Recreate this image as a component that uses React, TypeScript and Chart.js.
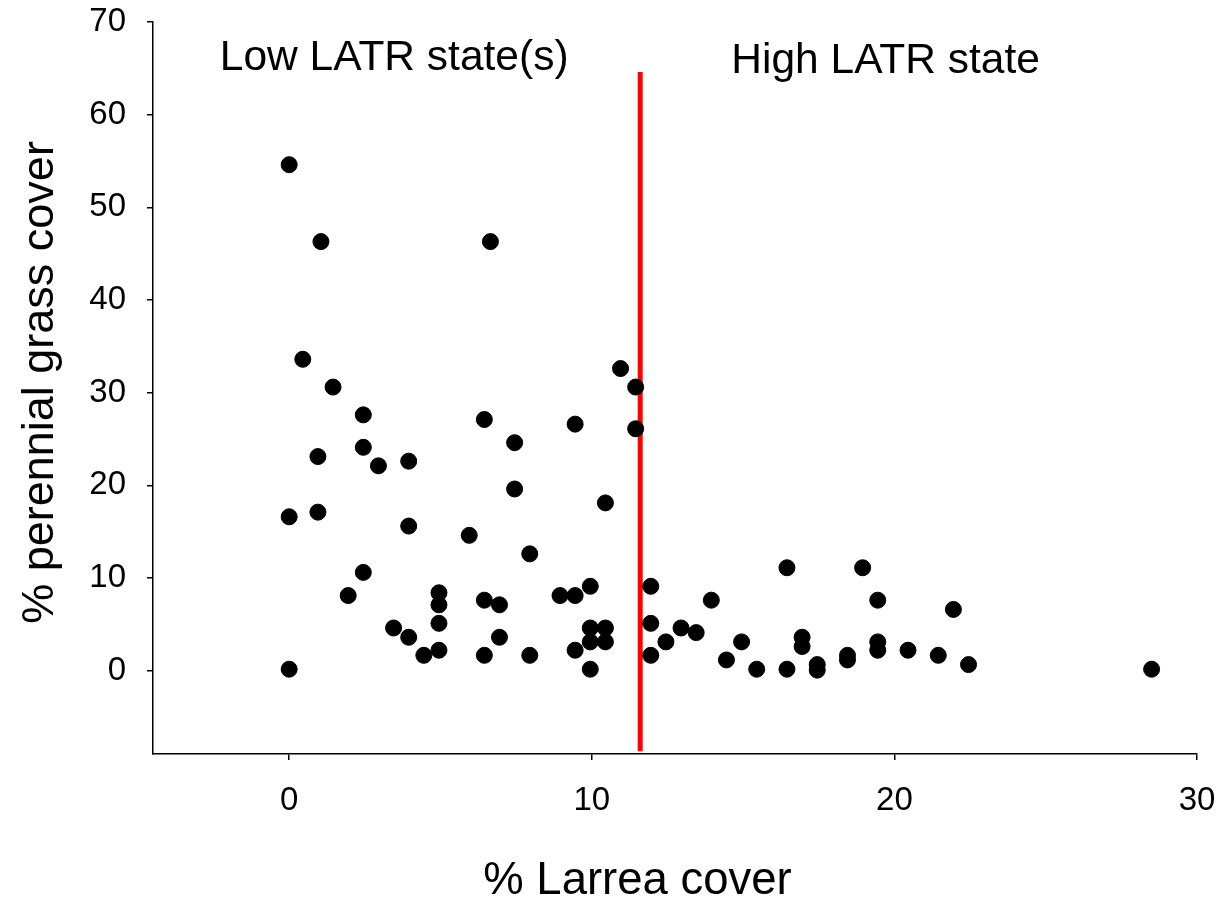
import React, { useEffect, useRef } from 'react';
import { Chart, registerables } from 'chart.js';

Chart.register(...registerables);

const FONT = "'Liberation Sans', Arial, Helvetica, sans-serif";

// % Larrea cover (x) and % perennial grass cover (y) for each plot
const larreaCover = [
  0, 1.05, 6.65, 0.45, 10.95, 11.45, 1.45, 2.45, 6.45, 9.45,
  11.45, 7.45, 2.45, 0.95, 2.95, 3.95, 7.45, 10.45, 0, 0.95,
  3.95, 5.95, 7.95, 2.45, 1.95, 4.95, 4.95, 6.45, 6.95, 8.95,
  9.45, 9.95, 11.95, 3.45, 3.95, 4.95, 4.45, 4.95, 6.45, 6.95,
  7.95, 9.45, 9.95, 10.45, 9.95, 10.45, 9.95, 11.95, 11.95, 0,
  12.45, 12.95, 13.45, 13.95, 14.45, 14.95, 15.45, 16.45, 16.45, 16.95,
  16.95, 17.45, 17.45, 18.45, 18.45, 18.95, 19.45, 19.45, 19.45, 20.45,
  21.45, 21.95, 22.45, 28.5,
];
const grassCover = [
  54.6, 46.3, 46.3, 33.6, 32.6, 30.6, 30.6, 27.6, 27.1, 26.6,
  26.1, 24.6, 24.1, 23.1, 22.1, 22.6, 19.6, 18.1, 16.6, 17.1,
  15.6, 14.6, 12.6, 10.6, 8.1, 8.4, 7.1, 7.6, 7.1, 8.1,
  8.1, 9.1, 9.1, 4.6, 3.6, 5.1, 1.65, 2.2, 1.65, 3.6,
  1.65, 2.2, 4.6, 4.6, 3.1, 3.1, 0.15, 5.1, 1.65, 0.15,
  3.1, 4.6, 4.1, 7.6, 1.15, 3.1, 0.15, 11.1, 0.15, 3.6,
  2.6, 0.65, 0.05, 1.65, 1.15, 11.1, 7.6, 3.1, 2.2, 2.2,
  1.65, 6.6, 0.65, 0.15,
];

// threshold separating the states
const thresholdX = [11.6, 11.6];
const thresholdY = [64.6, -8.7];

// tick values
const xTickValues = [0, 10, 20, 30];
const yTickValues = [0, 10, 20, 30, 40, 50, 60, 70];

// state annotations (in data units)
const stateLabels = ['Low LATR state(s)', 'High LATR state'];
const stateLabelX = [3.47, 19.71];
const stateLabelY = [64.85, 64.5];

const X_TITLE = '% Larrea cover';
const Y_TITLE = '% perennial grass cover';

const textPlugin = {
  id: 'textPlugin',
  afterDraw(chart: any) {
    const { ctx, scales } = chart;
    const xs = scales.x;
    const ys = scales.y;
    ctx.save();
    ctx.fillStyle = '#000';
    ctx.textAlign = 'center';
    ctx.textBaseline = 'alphabetic';
    ctx.font = `42.5px ${FONT}`;
    stateLabels.forEach((t, i) => {
      ctx.fillText(t, xs.getPixelForValue(stateLabelX[i]), ys.getPixelForValue(stateLabelY[i]));
    });
    ctx.font = `45.5px ${FONT}`;
    ctx.fillText(X_TITLE, 637.5, 893.5);
    ctx.font = `45px ${FONT}`;
    ctx.translate(52.5, 382.5);
    ctx.rotate(-Math.PI / 2);
    ctx.fillText(Y_TITLE, 0, 0);
    ctx.restore();
  },
};

export default function App() {
  const canvasRef = useRef<HTMLCanvasElement | null>(null);

  useEffect(() => {
    document.body.style.margin = '0';
    const canvas = canvasRef.current;
    if (!canvas) return;

    const points = larreaCover.map((x, i) => ({ x, y: grassCover[i] }));
    const linePts = thresholdX.map((x, i) => ({ x, y: thresholdY[i] }));

    const axisCommon = {
      type: 'linear' as const,
      grid: {
        drawOnChartArea: false,
        drawTicks: true,
        tickLength: 6,
        color: '#000',
        lineWidth: 1.5,
      },
      border: { display: true, color: '#000', width: 1.5 },
      ticks: {
        font: { family: FONT, size: 33 },
        color: '#000',
        padding: 21,
        maxRotation: 0,
        autoSkip: false,
      },
    };

    const chart = new Chart(canvas, {
      type: 'scatter',
      data: {
        datasets: [
          {
            label: 'Plots',
            data: points,
            backgroundColor: '#000',
            borderColor: '#000',
            borderWidth: 1,
            pointRadius: 8,
            pointHoverRadius: 8,
            order: 0,
          },
          {
            label: 'Threshold',
            data: linePts,
            showLine: true,
            borderColor: '#ff0000',
            backgroundColor: '#ff0000',
            borderWidth: 5,
            pointRadius: 0,
            order: 1,
          },
        ],
      },
      options: {
        animation: false,
        responsive: false,
        devicePixelRatio: 1,
        layout: { padding: { top: 22, right: 23, left: 0, bottom: 0 } },
        plugins: {
          legend: { display: false },
          tooltip: { enabled: false },
        },
        scales: {
          x: {
            ...axisCommon,
            min: -4.5,
            max: 30,
            afterBuildTicks: (s: any) => {
              s.ticks = xTickValues.map((v) => ({ value: v }));
            },
            afterFit: (s: any) => {
              s.height = 146;
              s.paddingLeft = 0;
              s.paddingRight = 0;
            },
          },
          y: {
            ...axisCommon,
            min: -9,
            max: 70,
            afterBuildTicks: (s: any) => {
              s.ticks = yTickValues.map((v) => ({ value: v }));
            },
            afterFit: (s: any) => {
              s.width = 153;
              s.paddingTop = 0;
              s.paddingBottom = 0;
            },
          },
        },
      } as any,
      plugins: [textPlugin],
    });

    return () => chart.destroy();
  }, []);

  return (
    <div style={{ width: 1220, height: 900 }}>
      <canvas ref={canvasRef} width={1220} height={900} style={{ display: 'block' }} />
    </div>
  );
}
